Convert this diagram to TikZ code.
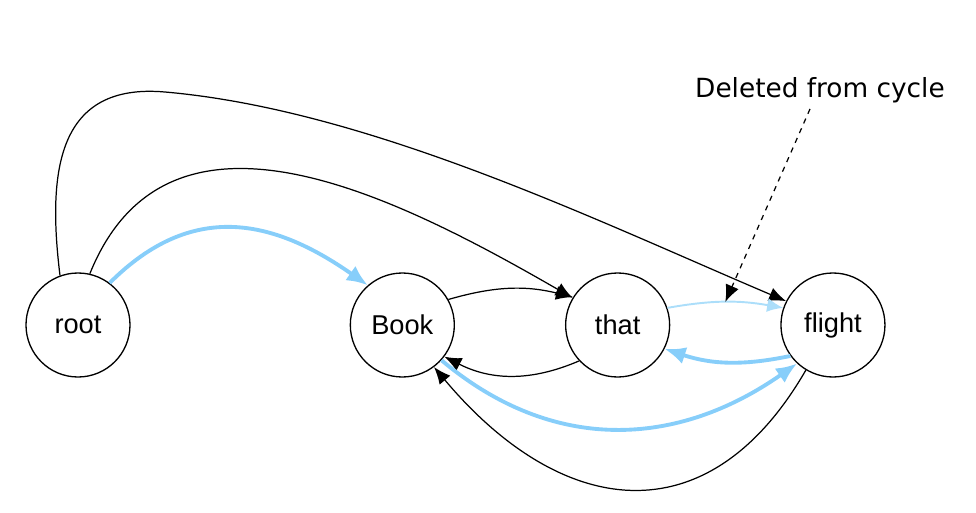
\documentclass[tikz,border=0pt]{standalone}
\usepackage{fontspec}
\setmainfont{Liberation Sans}
\newfontfamily\notefont{DejaVu Sans}
\usetikzlibrary{positioning,arrows.meta}
\definecolor{mstblue}{RGB}{135,206,250}
\definecolor{mstpale}{RGB}{172,222,250}

\begin{document}
\begin{tikzpicture}[
  word/.style={circle,draw,line width=0.75pt,minimum size=2.08cm,inner sep=0pt,font=\fontsize{15.5}{18}\selectfont},
  dep/.style={line width=0.7pt,-{Latex[length=3.4mm,width=2.8mm]}},
  best/.style={mstblue,line width=2.2pt,-{Latex[length=4.2mm,width=3.5mm]}},
  pale/.style={mstpale,line width=1.1pt,-{Latex[length=3.2mm,width=2.8mm]}},
  node distance=2.2cm]
  \useasboundingbox (0,0) rectangle (19.52,10.24);
  \node[word] (root) at (1.56,3.74) {root};
  \node[word,right=4.38cm of root] (book) {Book};
  \node[word,right=of book] (that) {that};
  \node[word,right=of that] (flight) {flight};
  \node[font=\notefont\fontsize{15}{18}\selectfont] (note) at (16.4,8.44) {Deleted from cycle};
  \coordinate (bend) at (3.3,8.4);
  \draw[dep] (root.110) to[out=97,in=175,looseness=1.3] (bend) to[out=-5,in=157,looseness=0.8] (flight.153);
  \draw[dep] (root.77) to[out=68,in=150,looseness=1.1] (that.149);
  \draw[best] (root.53) to[out=45,in=145,looseness=1.15] (book.131);
  \draw[dep] (book.29) to[bend left=15] (that.148);
  \draw[dep] (that.223) to[bend left=25] (book.-37);
  \draw[pale] (that.19) to[bend left=10] coordinate[pos=0.5] (cut) (flight.161);
  \draw[best] (flight.216) to[bend left=15] (that.-27);
  \draw[best] (book.-42) to[out=-40,in=215,looseness=1.05] (flight.227);
  \draw[dep] (flight.239) to[out=-120,in=-50,looseness=1.35] (book.-53);
  \draw[dep,dashed] ([xshift=-0.2cm]note.south) -- (cut);
\end{tikzpicture}
\end{document}
